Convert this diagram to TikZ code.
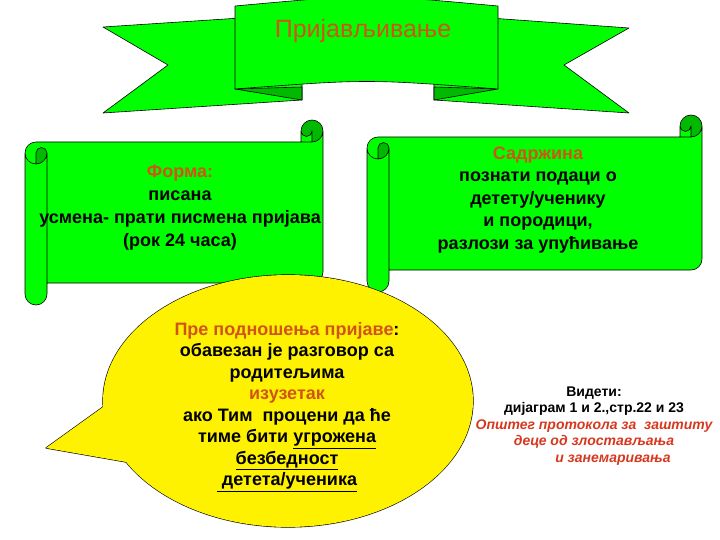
\documentclass[tikz,border=0pt]{standalone}
\usepackage{fontspec}
\setmainfont{Liberation Sans}

\definecolor{leafgreen}{RGB}{0,255,0}
\definecolor{folddark}{RGB}{0,185,0}
\definecolor{headorange}{RGB}{208,84,24}
\definecolor{notered}{RGB}{214,56,30}

\begin{document}
\begin{tikzpicture}[x=1pt, y=-1pt,
  greenpart/.style={fill=leafgreen, draw=black, line width=0.6pt, line join=round},
  darkpart/.style={fill=folddark, draw=black, line width=0.6pt, line join=round},
  scrollline/.style={draw=black, line width=0.6pt, line join=round},
  bubbleedge/.style={draw=black, line width=1.2pt, line join=round},
  bodytext/.style={font=\fontsize{18}{23}\selectfont\bfseries, align=center},
  bubbletext/.style={font=\fontsize{18}{21.5}\selectfont\bfseries, align=center},
  seetext/.style={font=\fontsize{14}{16.5}\selectfont\bfseries, align=center}]

\useasboundingbox (0,0) rectangle (720,540);

% === RIBBON ===
% tails behind the banner
\draw[greenpart] (103,27) -- (302,14) -- (302,100) -- (103,113) -- (168,65) -- cycle;
\draw[greenpart] (629,28) -- (434,14) -- (434,100) -- (629,113) -- (564,65) -- cycle;
% folds
\draw[darkpart] (235,89) -- (302,87) -- (302,100) -- cycle;
\draw[darkpart] (498,89) -- (434,87) -- (434,100) -- cycle;
% banner
\draw[greenpart] (235,6) .. controls (367,-6) .. (498,6) -- (498,89)
  .. controls (367,79) .. (235,89) -- cycle;
\node[font=\fontsize{25}{30}\selectfont, text=headorange] (title) at (363,31) {Пријављивање};

% ============================================================
% LEFT SCROLL: form
% ============================================================
\begin{scope}[shift={(25,120)}]
  \fill[leafgreen] (298,11) arc[start angle=0, delta angle=90, radius=11] -- (287,11)
    arc[start angle=0, delta angle=180, radius=5.5] -- (276,22) -- (11,22)
    arc[start angle=270, delta angle=-90, radius=11] -- (0,174)
    arc[start angle=180, delta angle=-180, radius=11] -- (22,163) -- (287,163)
    arc[start angle=90, delta angle=-90, radius=11] -- cycle;
  \fill[folddark] (11,44) arc[start angle=90, delta angle=-90, radius=11]
    arc[start angle=0, delta angle=-180, radius=5.5] -- cycle
    (287,22) arc[start angle=90, delta angle=-270, radius=11]
    arc[start angle=180, delta angle=-180, radius=5.5] -- cycle;
  \draw[scrollline] (0,33) arc[start angle=180, delta angle=90, radius=11] -- (276,22) -- (276,11)
    arc[start angle=180, delta angle=180, radius=11] -- (298,152)
    arc[start angle=0, delta angle=90, radius=11] -- (22,163) -- (22,174)
    arc[start angle=0, delta angle=180, radius=11] -- cycle
    (276,22) -- (287,22) arc[start angle=90, delta angle=-90, radius=11]
    (287,22) -- (287,11) arc[start angle=0, delta angle=180, radius=5.5]
    (11,44) -- (11,33) arc[start angle=180, delta angle=180, radius=5.5]
    arc[start angle=0, delta angle=180, radius=11]
    (22,33) -- (22,163);
\end{scope}
\node[bodytext] (forma) at (180,208)
  {{\color{headorange}Форма:}\\писана\\усмена- прати писмена пријава\\(рок 24 часа)};

% ============================================================
% RIGHT SCROLL: content
% ============================================================
\begin{scope}[shift={(367,115)}]
  \fill[leafgreen] (335,11) arc[start angle=0, delta angle=90, radius=11] -- (324,11)
    arc[start angle=0, delta angle=180, radius=5.5] -- (313,22) -- (11,22)
    arc[start angle=270, delta angle=-90, radius=11] -- (0,166)
    arc[start angle=180, delta angle=-180, radius=11] -- (22,155) -- (324,155)
    arc[start angle=90, delta angle=-90, radius=11] -- cycle;
  \fill[folddark] (11,44) arc[start angle=90, delta angle=-90, radius=11]
    arc[start angle=0, delta angle=-180, radius=5.5] -- cycle
    (324,22) arc[start angle=90, delta angle=-270, radius=11]
    arc[start angle=180, delta angle=-180, radius=5.5] -- cycle;
  \draw[scrollline] (0,33) arc[start angle=180, delta angle=90, radius=11] -- (313,22) -- (313,11)
    arc[start angle=180, delta angle=180, radius=11] -- (335,144)
    arc[start angle=0, delta angle=90, radius=11] -- (22,155) -- (22,166)
    arc[start angle=0, delta angle=180, radius=11] -- cycle
    (313,22) -- (324,22) arc[start angle=90, delta angle=-90, radius=11]
    (324,22) -- (324,11) arc[start angle=0, delta angle=180, radius=5.5]
    (11,44) -- (11,33) arc[start angle=180, delta angle=180, radius=5.5]
    arc[start angle=0, delta angle=180, radius=11]
    (22,33) -- (22,155);
\end{scope}
\node[bodytext, font=\fontsize{18}{22.5}\selectfont\bfseries] (sadrzina) at (538,200)
  {{\color{headorange}Садржина}\\познати подаци о\\детету/ученику\\и породици,\\разлози за упућивање};

% ============================================================
% CALLOUT: before filing
% ============================================================
\coordinate (bubblec) at (288,401);
\coordinate (tailtip) at (46,448);
% outline first (doubled), then the yellow fill over its inner half
\draw[bubbleedge] (bubblec) ellipse[x radius=185, y radius=126];
\draw[bubbleedge] (tailtip) -- (110,402) -- (126,462) -- cycle;
\fill[yellow] (bubblec) ellipse[x radius=185, y radius=126];
\fill[yellow] (tailtip) -- (110,402) -- (126,462) -- cycle;
\node[bubbletext] (pre) at (287,407)
  {{\color{headorange}Пре подношења пријаве}:\\обавезан је разговор са\\родитељима\\{\color{headorange}изузетак}\\ако Тим\ \ процени да ће\\тиме бити \underline{угрожена}\\\underline{безбедност}\\\underline{\ детета/ученика}};

% === SEE ALSO ===
\node[seetext] (videti) at (594,426)
  {Видети:\\дијаграм 1 и 2.,стр.22 и 23\\{\color{notered}\itshape Општег протокола за\ \ заштиту}\\{\color{notered}\itshape деце од злостављања}\\{\color{notered}\itshape\hspace*{38pt}и занемаривања}};

\end{tikzpicture}
\end{document}
